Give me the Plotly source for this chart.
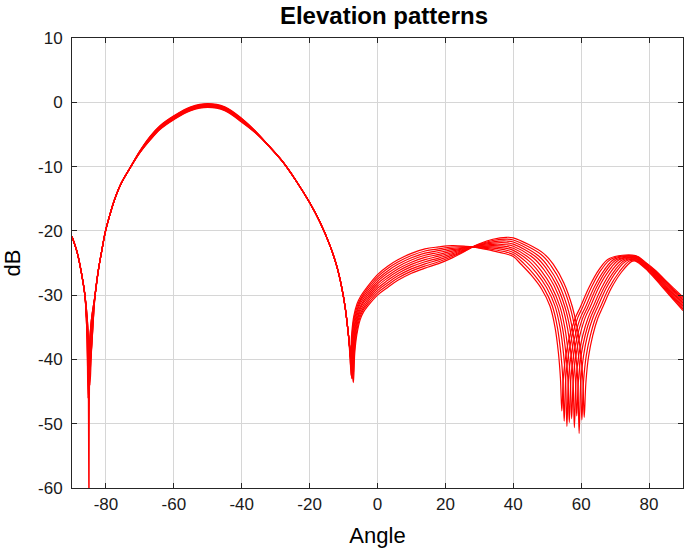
import plotly.graph_objects as go

# ---------------- data ----------------
x_tick_values = [-80, -60, -40, -20, 0, 20, 40, 60, 80]
x_tick_labels = ["-80", "-60", "-40", "-20", "0", "20", "40", "60", "80"]
y_tick_values = [-60, -50, -40, -30, -20, -10, 0, 10]
y_tick_labels = ["-60", "-50", "-40", "-30", "-20", "-10", "0", "10"]

# shared angle grid, left null + main lobe (deg)
angles_left = [-90, -88.5, -87.2, -86.2,
               -85.6, -85.3, -85.0, -84.7, -84.2,
               -83.2, -82.2, -81.2, -80.2, -79, -77.5, -75.5, -73,
               -70, -67, -64, -60, -55, -50, -45, -40, -36,
               -32, -28, -24, -20, -17, -14, -12, -10.5, -9.5, -8.6]
db_left = [
    [-20.9, -23.3, -26.6, -30.0, -34.5, -38.5, -65.0, -39.0, -35.0,
     -30.0, -26.0, -23.0, -20.2, -17.8, -15.2, -12.6, -10.3,
     -7.55, -5.30, -3.60, -2.10, -0.70, -0.20, -0.70, -2.50, -4.45,
     -6.8, -9.2, -12.2, -15.6, -18.6, -22.3, -25.5, -28.9, -32.0, -36.0],
    [-20.9, -23.3, -26.6, -30.0, -36.0, -46.0, -39.0, -36.5, -33.5,
     -30.0, -26.0, -23.0, -20.2, -17.8, -15.2, -12.6, -10.3,
     -7.58, -5.37, -3.67, -2.17, -0.77, -0.27, -0.77, -2.57, -4.48,
     -6.8, -9.2, -12.2, -15.6, -18.6, -22.3, -25.5, -28.9, -32.0, -36.0],
    [-20.9, -23.3, -26.6, -30.0, -33.0, -35.5, -39.0, -44.0, -38.0,
     -30.0, -26.0, -23.0, -20.2, -17.8, -15.2, -12.6, -10.3,
     -7.62, -5.43, -3.73, -2.23, -0.83, -0.33, -0.83, -2.63, -4.52,
     -6.8, -9.2, -12.2, -15.6, -18.6, -22.3, -25.5, -28.9, -32.0, -36.0],
    [-20.9, -23.3, -26.6, -30.0, -34.5, -38.5, -45.5, -39.0, -35.0,
     -30.0, -26.0, -23.0, -20.2, -17.8, -15.2, -12.6, -10.3,
     -7.65, -5.50, -3.80, -2.30, -0.90, -0.40, -0.90, -2.70, -4.55,
     -6.8, -9.2, -12.2, -15.6, -18.6, -22.3, -25.5, -28.9, -32.0, -36.0],
    [-20.9, -23.3, -26.6, -30.0, -36.0, -43.0, -39.0, -36.5, -33.5,
     -30.0, -26.0, -23.0, -20.2, -17.8, -15.2, -12.6, -10.3,
     -7.68, -5.57, -3.87, -2.37, -0.97, -0.47, -0.97, -2.77, -4.58,
     -6.8, -9.2, -12.2, -15.6, -18.6, -22.3, -25.5, -28.9, -32.0, -36.0],
    [-20.9, -23.3, -26.6, -30.0, -33.0, -35.5, -39.0, -42.0, -38.0,
     -30.0, -26.0, -23.0, -20.2, -17.8, -15.2, -12.6, -10.3,
     -7.72, -5.63, -3.93, -2.43, -1.03, -0.53, -1.03, -2.83, -4.62,
     -6.8, -9.2, -12.2, -15.6, -18.6, -22.3, -25.5, -28.9, -32.0, -36.0],
    [-20.9, -23.3, -26.6, -30.0, -34.5, -38.5, -44.0, -39.0, -35.0,
     -30.0, -26.0, -23.0, -20.2, -17.8, -15.2, -12.6, -10.3,
     -7.75, -5.70, -4.00, -2.50, -1.10, -0.60, -1.10, -2.90, -4.65,
     -6.8, -9.2, -12.2, -15.6, -18.6, -22.3, -25.5, -28.9, -32.0, -36.0],
    [-20.9, -23.3, -26.6, -30.0, -36.0, -41.0, -39.0, -36.5, -33.5,
     -30.0, -26.0, -23.0, -20.2, -17.8, -15.2, -12.6, -10.3,
     -7.78, -5.77, -4.07, -2.57, -1.17, -0.67, -1.17, -2.97, -4.68,
     -6.8, -9.2, -12.2, -15.6, -18.6, -22.3, -25.5, -28.9, -32.0, -36.0],
    [-20.9, -23.3, -26.6, -30.0, -33.0, -35.5, -39.0, -40.5, -38.0,
     -30.0, -26.0, -23.0, -20.2, -17.8, -15.2, -12.6, -10.3,
     -7.82, -5.83, -4.13, -2.63, -1.23, -0.73, -1.23, -3.03, -4.72,
     -6.8, -9.2, -12.2, -15.6, -18.6, -22.3, -25.5, -28.9, -32.0, -36.0],
    [-20.9, -23.3, -26.6, -30.0, -34.5, -38.5, -42.5, -39.0, -35.0,
     -30.0, -26.0, -23.0, -20.2, -17.8, -15.2, -12.6, -10.3,
     -7.85, -5.90, -4.20, -2.70, -1.30, -0.80, -1.30, -3.10, -4.75,
     -6.8, -9.2, -12.2, -15.6, -18.6, -22.3, -25.5, -28.9, -32.0, -36.0],
]

# null near -8 deg, per pattern
null1_angles = [
    [-8.35, -8.0, -7.6, -7.0, -6.0, -5.0],
    [-8.25, -7.9, -7.5, -6.9, -5.9, -4.9],
    [-8.15, -7.8, -7.4, -6.8, -5.8, -4.8],
    [-8.05, -7.7, -7.3, -6.7, -5.7, -4.7],
    [-7.95, -7.6, -7.2, -6.6, -5.6, -4.6],
    [-7.85, -7.5, -7.1, -6.5, -5.5, -4.5],
    [-7.75, -7.4, -7.0, -6.4, -5.4, -4.4],
    [-7.65, -7.3, -6.9, -6.3, -5.3, -4.3],
    [-7.55, -7.2, -6.8, -6.2, -5.2, -4.2],
    [-7.45, -7.1, -6.7, -6.1, -5.1, -4.1],
]
null1_db = [
    [-37.7, -40.0, -36.0, -33.3, -31.3, -30.2],
    [-38.1, -41.2, -36.3, -33.6, -31.6, -30.5],
    [-38.6, -42.5, -36.7, -33.9, -31.9, -30.7],
    [-39.0, -40.6, -37.0, -34.3, -32.1, -31.0],
    [-39.5, -43.0, -37.3, -34.6, -32.4, -31.3],
    [-40.0, -41.6, -37.7, -34.9, -32.7, -31.5],
    [-40.5, -43.0, -38.0, -35.2, -32.9, -31.8],
    [-41.0, -42.2, -38.3, -35.5, -33.2, -32.1],
    [-41.5, -42.8, -38.7, -35.9, -33.5, -32.3],
    [-42.0, -43.6, -39.0, -36.2, -33.8, -32.6],
]

# shared grid, first right side lobe
angles_mid = [-3, 0, 3, 6, 10, 14, 18, 22, 26, 28, 30, 34, 38, 40]
db_mid = [
    [-28.70, -26.80, -25.50, -24.50, -23.50, -22.80, -22.50, -22.30, -22.40, -22.5, -22.70, -23.10, -23.60, -24.00],
    [-29.04, -27.16, -25.87, -24.86, -23.84, -23.13, -22.79, -22.51, -22.48, -22.5, -22.62, -22.90, -23.31, -23.68],
    [-29.39, -27.51, -26.23, -25.21, -24.19, -23.47, -23.08, -22.72, -22.56, -22.5, -22.54, -22.70, -23.02, -23.36],
    [-29.73, -27.87, -26.60, -25.57, -24.53, -23.80, -23.37, -22.93, -22.63, -22.5, -22.47, -22.50, -22.73, -23.03],
    [-30.08, -28.22, -26.97, -25.92, -24.88, -24.13, -23.66, -23.14, -22.71, -22.5, -22.39, -22.30, -22.44, -22.71],
    [-30.42, -28.58, -27.33, -26.28, -25.22, -24.47, -23.94, -23.36, -22.79, -22.5, -22.31, -22.10, -22.16, -22.39],
    [-30.77, -28.93, -27.70, -26.63, -25.57, -24.80, -24.23, -23.57, -22.87, -22.5, -22.23, -21.90, -21.87, -22.07],
    [-31.11, -29.29, -28.07, -26.99, -25.91, -25.13, -24.52, -23.78, -22.94, -22.5, -22.16, -21.70, -21.58, -21.74],
    [-31.46, -29.64, -28.43, -27.34, -26.26, -25.47, -24.81, -23.99, -23.02, -22.5, -22.08, -21.50, -21.29, -21.42],
    [-31.80, -30.00, -28.80, -27.70, -26.60, -25.80, -25.10, -24.20, -23.10, -22.5, -22.00, -21.30, -21.00, -21.10],
]

# null between 54 and 61 deg and rise of the last lobe, per pattern
null2_angles = [
    [42.3, 45.3, 48.3, 50.8, 52.3, 53.3, 53.9, 54.3, 54.8, 55.6, 56.8, 58.3, 59.8, 62.3, 65.3, 68.3],
    [43.0, 46.0, 49.0, 51.5, 53.0, 54.0, 54.6, 55.0, 55.5, 56.3, 57.5, 59.0, 60.5, 63.0, 66.0, 69.0],
    [43.8, 46.8, 49.8, 52.3, 53.8, 54.8, 55.4, 55.8, 56.3, 57.1, 58.3, 59.8, 61.3, 63.8, 66.8, 69.8],
    [44.5, 47.5, 50.5, 53.0, 54.5, 55.5, 56.1, 56.5, 57.0, 57.8, 59.0, 60.5, 62.0, 64.5, 67.5, 70.5],
    [45.2, 48.2, 51.2, 53.7, 55.2, 56.2, 56.8, 57.2, 57.7, 58.5, 59.7, 61.2, 62.7, 65.2, 68.2, 71.2],
    [46.0, 49.0, 52.0, 54.5, 56.0, 57.0, 57.6, 58.0, 58.5, 59.3, 60.5, 62.0, 63.5, 66.0, 69.0, 72.0],
    [46.7, 49.7, 52.7, 55.2, 56.7, 57.7, 58.3, 58.7, 59.2, 60.0, 61.2, 62.7, 64.2, 66.7, 69.7, 72.7],
    [47.4, 50.4, 53.4, 55.9, 57.4, 58.4, 59.0, 59.4, 59.9, 60.7, 61.9, 63.4, 64.9, 67.4, 70.4, 73.4],
    [48.2, 51.2, 54.2, 56.7, 58.2, 59.2, 59.8, 60.2, 60.7, 61.5, 62.7, 64.2, 65.7, 68.2, 71.2, 74.2],
    [48.9, 51.9, 54.9, 57.4, 58.9, 59.9, 60.5, 60.9, 61.4, 62.2, 63.4, 64.9, 66.4, 68.9, 71.9, 74.9],
]
null2_db = [
    [-25.20, -26.90, -29.00, -31.7, -35.0, -39.0, -43.0, -48.0, -42.5, -39.0, -36.0, -33.5, -31.8, -28.8, -26.0, -24.30],
    [-25.01, -26.72, -28.90, -31.7, -35.0, -39.0, -43.0, -49.6, -42.6, -39.1, -36.0, -33.5, -31.8, -28.8, -26.0, -24.35],
    [-24.82, -26.54, -28.80, -31.7, -35.1, -39.1, -43.1, -50.4, -42.7, -39.1, -36.1, -33.5, -31.8, -28.8, -26.1, -24.40],
    [-24.63, -26.37, -28.70, -31.7, -35.1, -39.1, -43.1, -49.8, -42.8, -39.2, -36.1, -33.5, -31.8, -28.8, -26.1, -24.45],
    [-24.44, -26.19, -28.60, -31.7, -35.1, -39.1, -43.1, -49.2, -42.9, -39.2, -36.1, -33.5, -31.8, -28.8, -26.2, -24.50],
    [-24.26, -26.01, -28.50, -31.8, -35.2, -39.2, -43.1, -50.6, -43.1, -39.3, -36.2, -33.6, -31.8, -28.9, -26.2, -24.55],
    [-24.07, -25.83, -28.40, -31.8, -35.2, -39.2, -43.1, -48.8, -43.2, -39.3, -36.2, -33.6, -31.8, -28.9, -26.3, -24.60],
    [-23.88, -25.66, -28.30, -31.8, -35.2, -39.2, -43.2, -51.5, -43.3, -39.4, -36.2, -33.6, -31.8, -28.9, -26.3, -24.65],
    [-23.69, -25.48, -28.20, -31.8, -35.3, -39.3, -43.2, -49.4, -43.4, -39.4, -36.3, -33.6, -31.8, -28.9, -26.4, -24.70],
    [-23.50, -25.30, -28.10, -31.8, -35.3, -39.3, -43.2, -49.0, -43.5, -39.5, -36.3, -33.6, -31.8, -28.9, -26.4, -24.75],
]

# shared grid, fall of the last lobe towards 90 deg
angles_right = [76, 79, 82, 85, 88, 90]
db_right = [
    [-23.85, -24.90, -26.20, -27.80, -29.30, -30.30],
    [-23.94, -25.01, -26.36, -27.98, -29.51, -30.53],
    [-24.04, -25.12, -26.51, -28.16, -29.72, -30.77],
    [-24.13, -25.23, -26.67, -28.33, -29.93, -31.00],
    [-24.23, -25.34, -26.82, -28.51, -30.14, -31.23],
    [-24.32, -25.46, -26.98, -28.69, -30.36, -31.47],
    [-24.42, -25.57, -27.13, -28.87, -30.57, -31.70],
    [-24.51, -25.68, -27.29, -29.04, -30.78, -31.93],
    [-24.61, -25.79, -27.44, -29.22, -30.99, -32.17],
    [-24.70, -25.90, -27.60, -29.40, -31.20, -32.40],
]

# ---------------- figure ----------------
FONT = "Liberation Sans, Arial, Helvetica, sans-serif"
FIG_W, FIG_H = 685, 551
fig = go.Figure()
for k in range(len(db_left)):
    xs = angles_left + null1_angles[k] + angles_mid + null2_angles[k] + angles_right
    ys = db_left[k] + null1_db[k] + db_mid[k] + null2_db[k] + db_right[k]
    fig.add_trace(go.Scatter(
        x=xs, y=ys, mode="lines",
        line=dict(color="#ff0000", width=1.2, shape="spline", smoothing=1.0),
        showlegend=False, hoverinfo="skip"))

fig.update_layout(
    width=FIG_W, height=FIG_H,
    margin=dict(l=72, r=2, t=38, b=63, autoexpand=False),
    paper_bgcolor="white", plot_bgcolor="white",
    font=dict(family=FONT, size=17, color="#1a1a1a"),
    title=dict(text="<b>Elevation patterns</b>", x=0.5106, xref="paper", xanchor="center",
               y=1 - 15.5 / FIG_H, yref="container", yanchor="middle",
               font=dict(family=FONT, size=24, color="#000000")),
)
axis_common = dict(
    ticks="inside", ticklen=5, tickwidth=1, tickcolor="#262626",
    showline=True, linecolor="#262626", linewidth=1, mirror="ticks",
    showgrid=True, gridcolor="#d6d6d6", gridwidth=1, zeroline=False,
    automargin=False,
)
fig.update_xaxes(range=[-90, 90], tickmode="array", tickvals=x_tick_values, ticktext=x_tick_labels,
                 ticklabelstandoff=1,
                 title=dict(text="Angle", font=dict(family=FONT, size=22, color="#000000"), standoff=14),
                 **axis_common)
fig.update_yaxes(range=[-60, 10], tickmode="array", tickvals=y_tick_values, ticktext=y_tick_labels,
                 ticklabelstandoff=5,
                 title=dict(text="dB", font=dict(family=FONT, size=22, color="#000000"), standoff=18),
                 **axis_common)

# let the figure sit at the page's top-left corner (no default body margin)
fig.write_html("out.html", config={"displayModeBar": False},
               post_script="document.body.style.margin='0px';")
